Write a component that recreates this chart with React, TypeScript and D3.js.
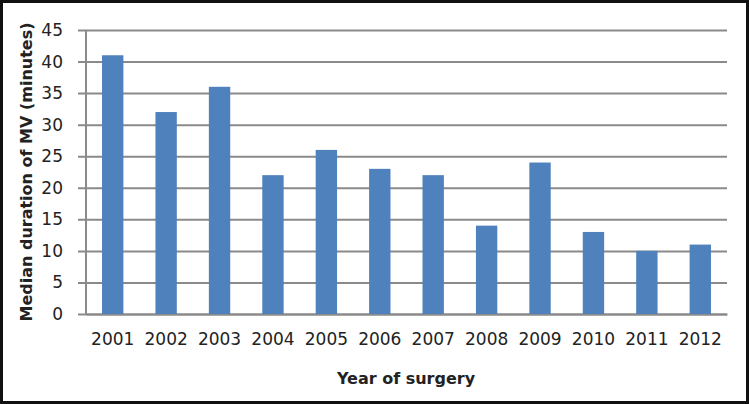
import { useRef, useEffect, useMemo } from 'react';
import * as d3 from 'd3';

const years = ['2001', '2002', '2003', '2004', '2005', '2006', '2007', '2008', '2009', '2010', '2011', '2012'];
const medianMV = [41, 32, 36, 22, 26, 23, 22, 14, 24, 13, 10, 11];
const yTicks = [0, 5, 10, 15, 20, 25, 30, 35, 40, 45];

const width = 749;
const height = 404;
const margin = { top: 30, right: 22, bottom: 90, left: 86 };
const font = '"DejaVu Sans", "Open Sans", sans-serif';

const App = () => {
  const axesRef = useRef<SVGGElement>(null);
  const boundWidth = width - margin.left - margin.right;
  const boundHeight = height - margin.top - margin.bottom;

  const xScale = useMemo(() => d3.scaleBand().domain(years).range([0, boundWidth]).paddingInner(0.6).paddingOuter(0.3), [boundWidth]);
  const yScale = useMemo(() => d3.scaleLinear().domain([0, 45]).range([boundHeight, 0]), [boundHeight]);

  useEffect(() => {
    const g = d3.select(axesRef.current);
    g.selectAll('*').remove();

    // y axis + gridlines
    g.append('g')
      .call(d3.axisLeft(yScale).tickValues(yTicks).tickSize(-boundWidth).tickPadding(0))
      .call(s => s.select('.domain').remove())
      .call(s => s.selectAll('.tick line').attr('stroke', '#8a8a8a').attr('stroke-width', 2).attr('x1', -8))
      .call(s => s.selectAll('.tick text').attr('x', -23).attr('font-size', 17).attr('font-family', font).attr('fill', '#222'));

    g.append('line')
      .attr('x1', 0).attr('x2', 0).attr('y1', 0).attr('y2', boundHeight)
      .attr('stroke', '#8a8a8a').attr('stroke-width', 2);

    // x axis
    g.append('g')
      .attr('transform', `translate(0, ${boundHeight})`)
      .call(d3.axisBottom(xScale).tickSize(0).tickPadding(19))
      .call(s => s.select('.domain').attr('stroke', '#8a8a8a').attr('stroke-width', 2))
      .call(s => s.selectAll('.tick text').attr('font-size', 17).attr('font-family', font).attr('fill', '#222'));
  }, [xScale, yScale, boundWidth, boundHeight]);

  return (
    <svg width={width} height={height} style={{ position: 'absolute', left: 0, top: 0, background: '#fff' }}>
      <rect x={1.5} y={1.5} width={width - 3} height={height - 3} fill="#fff" stroke="#111" strokeWidth={3} />
      <g transform={`translate(${margin.left}, ${margin.top})`}>
        <g ref={axesRef} />
        {years.map((yr, i) => (
          <rect
            key={yr}
            x={xScale(yr)}
            y={yScale(medianMV[i])}
            width={xScale.bandwidth()}
            height={boundHeight - yScale(medianMV[i])}
            fill="#4f81bd"
          />
        ))}
      </g>
      <text
        transform={`translate(32, ${margin.top + boundHeight / 2}) rotate(-90)`}
        textAnchor="middle"
        fontFamily={font}
        fontWeight="bold"
        fontSize={16}
        fill="#222"
      >
        Median duration of MV (minutes)
      </text>
      <text x={406} y={384} textAnchor="middle" fontFamily={font} fontWeight="bold" fontSize={16} fill="#222">
        Year of surgery
      </text>
    </svg>
  );
};

export default App;
